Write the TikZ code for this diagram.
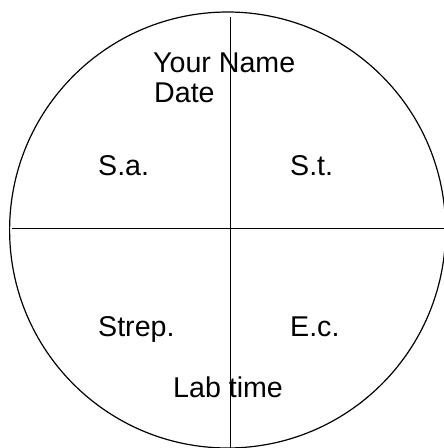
\documentclass[tikz,border=0pt]{standalone}
\usepackage{fontspec}
\setmainfont{Liberation Sans}
\begin{document}
\begin{tikzpicture}[x=1pt,y=-1pt,
  lbl/.style={anchor=base west,inner sep=0pt,font=\fontsize{28.6}{30}\selectfont},
  rim/.style={line width=1.2pt},
  divider/.style={line width=0.9pt}]
\useasboundingbox (0,0) rectangle (444,448);
\clip (0,0) rectangle (444,448);
\draw[rim] (227.6,230) circle[radius=218];
\draw[divider] (230,17) -- (230,448);
\draw[divider] (12,228.5) -- (444,228.5);
\node[lbl] (name) at (153,72) {Your Name};
\node[lbl] (date) at (154,102) {Date};
\node[lbl] (sa) at (98,175) {S.a.};
\node[lbl] (st) at (290,175) {S.t.};
\node[lbl] (strep) at (98,336) {Strep.};
\node[lbl] (ec) at (290,336) {E.c.};
\node[lbl] (lab) at (173,397) {Lab time};
\end{tikzpicture}
\end{document}
